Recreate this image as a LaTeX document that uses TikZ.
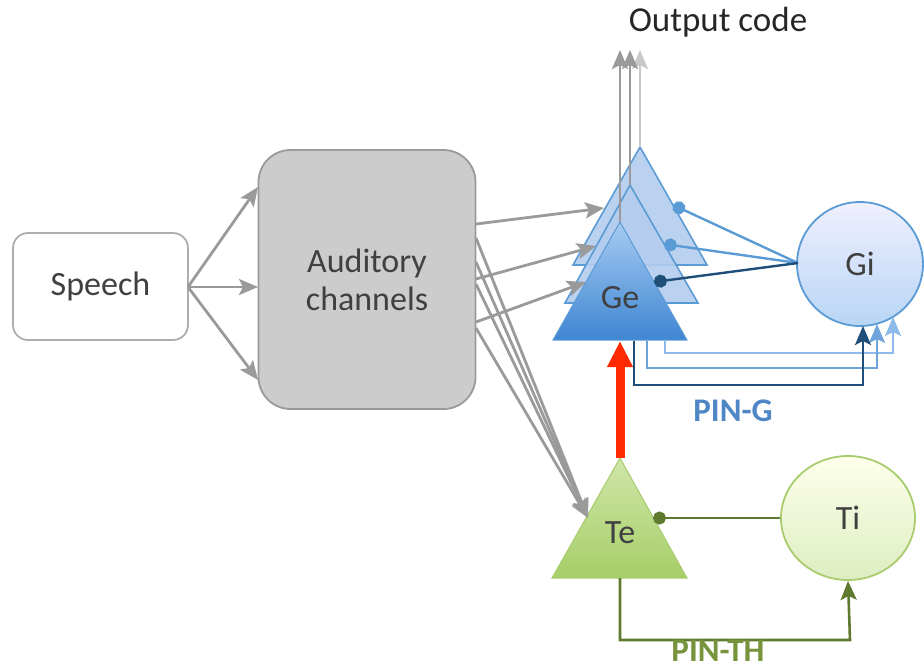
\documentclass[tikz,border=0pt]{standalone}
\usepackage{fontspec}
\setmainfont{Carlito}
\usetikzlibrary{arrows.meta,shapes.geometric}
\definecolor{arrgray}{HTML}{9A9A9A}
\definecolor{arrlight}{HTML}{C8C8C8}
\definecolor{txtgray}{HTML}{404040}
\definecolor{blueedge}{HTML}{5B9BD5}
\definecolor{bluedark}{HTML}{1F4E79}
\definecolor{bluemid}{HTML}{6FA3DC}
\definecolor{bluelight}{HTML}{8DBAE8}
\definecolor{bluelabel}{HTML}{4F86C6}
\definecolor{gedark}{HTML}{3F86D2}
\definecolor{gelight}{HTML}{A6CBF2}
\definecolor{backfill}{HTML}{B3CDEE}
\definecolor{greenedge}{HTML}{A9CC6E}
\definecolor{greendark}{HTML}{5E7A2E}
\definecolor{greenlabel}{HTML}{77933C}
\definecolor{tetop}{HTML}{CFE6A8}
\definecolor{tebot}{HTML}{A6CE68}
\definecolor{redarr}{HTML}{FF2A00}
\begin{document}
\begin{tikzpicture}[x=1pt,y=-1pt,
  lbl/.style={font=\fontsize{34}{40}\selectfont, text=txtgray},
  bold/.style={font=\fontsize{33}{40}\selectfont\bfseries},
  garrow/.style={draw=arrgray, line width=2.8pt, -{Stealth[length=19pt,width=16pt,inset=4pt]}},
  outarrow/.style={line width=2.8pt, -{Stealth[length=19pt,width=16pt,inset=4pt]}},
  inhib/.style={line width=2.4pt, {Circle[length=13pt]}-},
  fb/.style={line width=2.6pt, -{Stealth[length=19pt,width=16pt,inset=4pt]}},
  backtri/.style={draw=blueedge, line width=1.6pt, fill=backfill, fill opacity=0.9},
]
\useasboundingbox (0,0) rectangle (924,670);

% boxes
\node[lbl, draw=arrgray!80, line width=1.8pt, rounded corners=15pt, fill=white,
      minimum width=175pt, minimum height=107pt] (speech) at (100.5,286.5) {Speech};
\node[lbl, draw=arrgray, line width=1.8pt, rounded corners=32pt, fill=black!20,
      minimum width=217pt, minimum height=259pt, align=center] (aud) at (367,279.5)
      {Auditory\\[-2pt]channels};

% speech -> auditory
\coordinate (sp) at (188,287);
\coordinate (a1) at (258,187);
\coordinate (a2) at (258,287);
\coordinate (a3) at (258,380);
\draw[garrow] (sp) -- (a1);
\draw[garrow] (sp) -- (a2);
\draw[garrow] (sp) -- (a3);

% Ge triangles
\coordinate (g3t) at (640,147); \coordinate (g3l) at (573,265); \coordinate (g3r) at (707,265);
\coordinate (g2t) at (630,185); \coordinate (g2l) at (565,303); \coordinate (g2r) at (698,303);
\coordinate (g1t) at (620,222); \coordinate (g1l) at (553,340); \coordinate (g1r) at (687,340);
\filldraw[backtri] (g3t) -- (g3l) -- (g3r) -- cycle;
\filldraw[backtri] (g2t) -- (g2l) -- (g2r) -- cycle;
\shade[top color=gelight, bottom color=gedark] (g1t) -- (g1l) -- (g1r) -- cycle;
\draw[blueedge, line width=1pt] (g1t) -- (g1l) -- (g1r) -- cycle;
\node[lbl] (ge) at (620,298) {Ge};

% output code
\coordinate (o1) at (620,50); \coordinate (o2) at (630,50); \coordinate (o3) at (640,50);
\draw[outarrow, arrlight] (g3t) -- (o3);
\draw[outarrow, arrgray] (g2t) -- (o2);
\draw[outarrow, arrgray] (g1t) -- (o1);
\node[lbl, text=black!85, font=\fontsize{35}{40}\selectfont] (out) at (718,22) {Output code};

% auditory -> Ge
\coordinate (s1) at (476,224); \coordinate (e1) at (604,208);
\coordinate (s2) at (476,279); \coordinate (e2) at (596,246);
\coordinate (s3) at (476,322); \coordinate (e3) at (586,282);
\draw[garrow] (s1) -- (e1);
\draw[garrow] (s2) -- (e2);
\draw[garrow] (s3) -- (e3);

% Te triangle
\coordinate (tt) at (620,458); \coordinate (tl) at (552,578); \coordinate (tr) at (687,578);
\shade[top color=tetop, bottom color=tebot] (tt) -- (tl) -- (tr) -- cycle;
\draw[greenedge, line width=1pt] (tt) -- (tl) -- (tr) -- cycle;
\node[lbl] (te) at (620,533) {Te};

% auditory -> Te
\coordinate (te-in) at (588,518);
\coordinate (t1) at (476,238); \coordinate (t2) at (476,262);
\coordinate (t3) at (476,284); \coordinate (t4) at (476,328);
\draw[garrow] (t1) -- (te-in);
\draw[garrow] (t2) -- (te-in);
\draw[garrow] (t3) -- (te-in);
\draw[garrow] (t4) -- (te-in);

% red arrow Te -> Ge
\coordinate (gebase) at (620,341);
\draw[redarr, line width=9pt, -{Triangle[length=26pt,width=24pt]}] (tt) -- (gebase);

% Gi
\node[lbl, ellipse, draw=blueedge, line width=1.8pt, top color=blue!6!white, bottom color=gelight!80!white,
      minimum width=126pt, minimum height=124pt, inner sep=0pt] (gi) at (860,264) {Gi};
\coordinate (gil) at (798,263);
\coordinate (d3) at (673,205); \coordinate (d2) at (664,244); \coordinate (d1) at (654,282);
\draw[inhib, blueedge] (d3) -- (gil);
\draw[inhib, blueedge] (d2) -- (gil);
\draw[inhib, bluedark] (d1) -- (gil);

% feedback Ge -> Gi
\coordinate (f1) at (634,341); \coordinate (f1e) at (863,326);
\coordinate (f2) at (647,341); \coordinate (f2e) at (877,324);
\coordinate (f3) at (665,341); \coordinate (f3e) at (893,317);
\draw[fb, bluelight] (f3) |- (893,353) -- (f3e);
\draw[fb, bluemid] (f2) |- (877,368) -- (f2e);
\draw[fb, bluedark] (f1) |- (863,385) -- (f1e);
\node[bold, text=bluelabel] (ping) at (733,411) {PIN-G};

% Ti
\node[lbl, ellipse, draw=greenedge, line width=1.8pt, top color=green!8!yellow!8!white, bottom color=tetop!70!white,
      minimum width=134pt, minimum height=124pt, inner sep=0pt] (ti) at (848,518) {Ti};
\coordinate (dt) at (653,518);
\draw[inhib, greendark] (dt) -- (ti.west);
\coordinate (tb) at (620,578);
\draw[fb, greendark] (tb) |- (850,640) -- (ti.south);
\node[bold, text=greenlabel] (pinth) at (718,651) {PIN-TH};
\end{tikzpicture}
\end{document}
